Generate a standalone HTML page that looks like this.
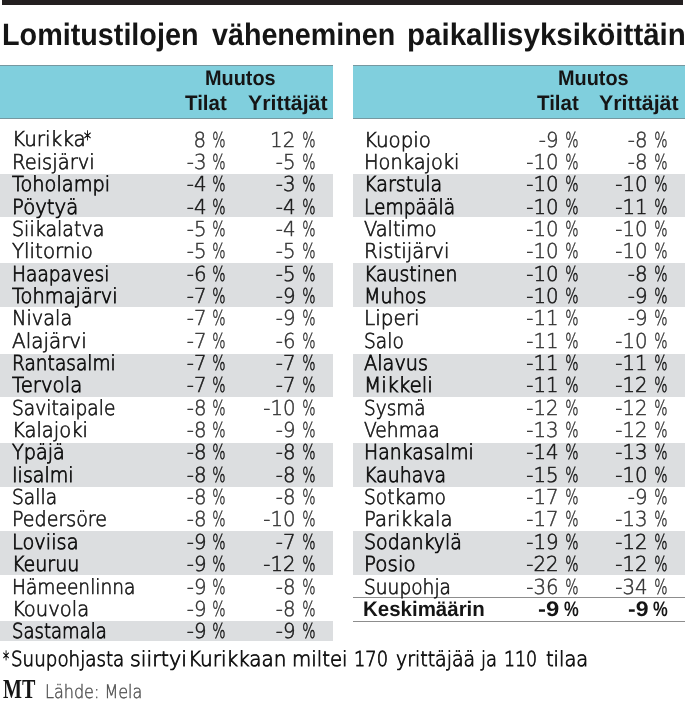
<!DOCTYPE html>
<html lang="fi"><head><meta charset="utf-8"><title>Lomitustilojen väheneminen paikallisyksiköittäin</title>
<style>
html,body{margin:0;padding:0;background:#fff;}
body{text-rendering:geometricPrecision;will-change:transform;width:686px;height:702px;position:relative;overflow:hidden;font-family:"Liberation Sans",sans-serif;color:#1a1a1a;}
.abs{position:absolute;white-space:nowrap;}
.bar{position:absolute;left:2px;top:0;width:681.2px;height:4.5px;background:#231f20;}
.title{position:absolute;left:0;top:17.2px;width:686px;height:36px;margin:0;font-weight:bold;font-size:31px;line-height:36px;color:#151515;}
.fn{position:absolute;left:0;width:686px;height:26px;margin:0;}
.fn span{position:absolute;top:0;white-space:nowrap;transform-origin:0 0;}
.title span{position:absolute;top:0;white-space:nowrap;transform-origin:0 0;}
.hd{position:absolute;top:64.6px;height:54.4px;background:#80cfdd;border-top:1px solid #7698a0;border-bottom:1px solid #7698a0;box-sizing:border-box;}
.band{position:absolute;background:#dcdee0;}
.lt{font-family:"DejaVu Sans Light","DejaVu Sans",sans-serif;font-weight:200; font-size:20.6px;line-height:26px;color:#181818;-webkit-text-stroke:0.66px #181818;}
.nl{color:#333;-webkit-text-stroke:0.45px #333;}
.nm{color:#181818;-webkit-text-stroke:0.55px #181818;}
.md{color:#101010;-webkit-text-stroke:0.8px #101010;}
.n{position:absolute;white-space:nowrap;transform-origin:0 0;}
.r{position:absolute;white-space:nowrap;transform-origin:100% 0;text-align:right;}
.h{position:absolute;white-space:nowrap;font-weight:bold;font-size:21px;line-height:26px;color:#151515;transform-origin:0 0;}
.b{font-family:"Liberation Sans",sans-serif;font-weight:bold;font-size:19.5px;-webkit-text-stroke:0;color:#151515;}
.ln{position:absolute;height:1px;background:#8d8d8d;}
</style></head>
<body>
<div class="bar"></div>
<h1 class="title" id="title"><span style="left:2.28px;transform:scaleX(0.9275)">Lomitustilojen</span> <span style="left:211.93px;transform:scaleX(0.9246)">väheneminen</span> <span style="left:407.15px;transform:scaleX(0.9520)">paikallisyksiköittäin</span></h1>
<div class="hd" style="left:0px;width:333.2px"></div>
<div class="hd" style="left:352.5px;width:332.9px"></div>
<div class="band" style="left:0;width:333.2px;top:173.5px;height:43.1px"></div>
<div class="band" style="left:352.5px;width:332.9px;top:173.5px;height:43.1px"></div>
<div class="band" style="left:0;width:333.2px;top:263.1px;height:43.5px"></div>
<div class="band" style="left:352.5px;width:332.9px;top:263.1px;height:43.5px"></div>
<div class="band" style="left:0;width:333.2px;top:353.8px;height:43.3px"></div>
<div class="band" style="left:352.5px;width:332.9px;top:353.8px;height:43.3px"></div>
<div class="band" style="left:0;width:333.2px;top:443.3px;height:43.3px"></div>
<div class="band" style="left:352.5px;width:332.9px;top:443.3px;height:43.3px"></div>
<div class="band" style="left:0;width:333.2px;top:531.2px;height:43.4px"></div>
<div class="band" style="left:352.5px;width:332.9px;top:531.2px;height:43.4px"></div>
<div class="band" style="left:0;width:333.2px;top:620.8px;height:19.8px"></div>
<div class="ln" style="left:352.5px;width:332.9px;top:597px"></div>
<div class="ln" style="left:352.5px;width:332.9px;top:621px"></div>
<div class="n lt" style="left:12.10px;top:126px;transform:scaleX(0.9724)">Kurikka</div>
<div class="n lt md" style="left:84.3px;top:126px;transform:scaleX(0.68)">*</div>
<div class="r lt nl" style="right:479.70px;top:126px;transform:translateY(0.52px) scaleX(0.96)">8</div>
<div class="r lt nl" style="right:460.10px;top:126px;transform:translateY(0.52px) scaleX(0.68)">%</div>
<div class="r lt nl" style="right:390.50px;top:126px;transform:translateY(0.52px) scaleX(0.96)">12</div>
<div class="r lt nl" style="right:370.90px;top:126px;transform:translateY(0.52px) scaleX(0.68)">%</div>
<div class="n lt" style="left:12.10px;top:148px;transform:translateY(0.87px) scaleX(0.9475)">Reisjärvi</div>
<div class="r lt nl" style="right:479.70px;top:148px;transform:translateY(0.87px) scaleX(0.96)">-3</div>
<div class="r lt nl" style="right:460.10px;top:148px;transform:translateY(0.87px) scaleX(0.68)">%</div>
<div class="r lt nl" style="right:390.50px;top:148px;transform:translateY(0.87px) scaleX(0.96)">-5</div>
<div class="r lt nl" style="right:370.90px;top:148px;transform:translateY(0.87px) scaleX(0.68)">%</div>
<div class="n lt md" style="left:12.10px;top:171px;transform:translateY(0.22px) scaleX(0.9387)">Toholampi</div>
<div class="r lt nm" style="right:479.70px;top:171px;transform:translateY(0.22px) scaleX(0.96)">-4</div>
<div class="r lt nm" style="right:460.10px;top:171px;transform:translateY(0.22px) scaleX(0.68)">%</div>
<div class="r lt nm" style="right:390.50px;top:171px;transform:translateY(0.22px) scaleX(0.96)">-3</div>
<div class="r lt nm" style="right:370.90px;top:171px;transform:translateY(0.22px) scaleX(0.68)">%</div>
<div class="n lt md" style="left:12.10px;top:193px;transform:translateY(0.57px) scaleX(0.9548)">Pöytyä</div>
<div class="r lt nm" style="right:479.70px;top:193px;transform:translateY(0.57px) scaleX(0.96)">-4</div>
<div class="r lt nm" style="right:460.10px;top:193px;transform:translateY(0.57px) scaleX(0.68)">%</div>
<div class="r lt nm" style="right:390.50px;top:193px;transform:translateY(0.57px) scaleX(0.96)">-4</div>
<div class="r lt nm" style="right:370.90px;top:193px;transform:translateY(0.57px) scaleX(0.68)">%</div>
<div class="n lt" style="left:12.10px;top:215px;transform:translateY(0.92px) scaleX(0.9253)">Siikalatva</div>
<div class="r lt nl" style="right:479.70px;top:215px;transform:translateY(0.92px) scaleX(0.96)">-5</div>
<div class="r lt nl" style="right:460.10px;top:215px;transform:translateY(0.92px) scaleX(0.68)">%</div>
<div class="r lt nl" style="right:390.50px;top:215px;transform:translateY(0.92px) scaleX(0.96)">-4</div>
<div class="r lt nl" style="right:370.90px;top:215px;transform:translateY(0.92px) scaleX(0.68)">%</div>
<div class="n lt" style="left:12.10px;top:238px;transform:translateY(0.27px) scaleX(0.9620)">Ylitornio</div>
<div class="r lt nl" style="right:479.70px;top:238px;transform:translateY(0.27px) scaleX(0.96)">-5</div>
<div class="r lt nl" style="right:460.10px;top:238px;transform:translateY(0.27px) scaleX(0.68)">%</div>
<div class="r lt nl" style="right:390.50px;top:238px;transform:translateY(0.27px) scaleX(0.96)">-5</div>
<div class="r lt nl" style="right:370.90px;top:238px;transform:translateY(0.27px) scaleX(0.68)">%</div>
<div class="n lt md" style="left:12.10px;top:260px;transform:translateY(0.62px) scaleX(0.9033)">Haapavesi</div>
<div class="r lt nm" style="right:479.70px;top:260px;transform:translateY(0.62px) scaleX(0.96)">-6</div>
<div class="r lt nm" style="right:460.10px;top:260px;transform:translateY(0.62px) scaleX(0.68)">%</div>
<div class="r lt nm" style="right:390.50px;top:260px;transform:translateY(0.62px) scaleX(0.96)">-5</div>
<div class="r lt nm" style="right:370.90px;top:260px;transform:translateY(0.62px) scaleX(0.68)">%</div>
<div class="n lt md" style="left:12.10px;top:282px;transform:translateY(0.97px) scaleX(0.9427)">Tohmajärvi</div>
<div class="r lt nm" style="right:479.70px;top:282px;transform:translateY(0.97px) scaleX(0.96)">-7</div>
<div class="r lt nm" style="right:460.10px;top:282px;transform:translateY(0.97px) scaleX(0.68)">%</div>
<div class="r lt nm" style="right:390.50px;top:282px;transform:translateY(0.97px) scaleX(0.96)">-9</div>
<div class="r lt nm" style="right:370.90px;top:282px;transform:translateY(0.97px) scaleX(0.68)">%</div>
<div class="n lt" style="left:12.10px;top:305px;transform:translateY(0.32px) scaleX(0.9367)">Nivala</div>
<div class="r lt nl" style="right:479.70px;top:305px;transform:translateY(0.32px) scaleX(0.96)">-7</div>
<div class="r lt nl" style="right:460.10px;top:305px;transform:translateY(0.32px) scaleX(0.68)">%</div>
<div class="r lt nl" style="right:390.50px;top:305px;transform:translateY(0.32px) scaleX(0.96)">-9</div>
<div class="r lt nl" style="right:370.90px;top:305px;transform:translateY(0.32px) scaleX(0.68)">%</div>
<div class="n lt" style="left:12.10px;top:327px;transform:translateY(0.67px) scaleX(0.9679)">Alajärvi</div>
<div class="r lt nl" style="right:479.70px;top:327px;transform:translateY(0.67px) scaleX(0.96)">-7</div>
<div class="r lt nl" style="right:460.10px;top:327px;transform:translateY(0.67px) scaleX(0.68)">%</div>
<div class="r lt nl" style="right:390.50px;top:327px;transform:translateY(0.67px) scaleX(0.96)">-6</div>
<div class="r lt nl" style="right:370.90px;top:327px;transform:translateY(0.67px) scaleX(0.68)">%</div>
<div class="n lt md" style="left:12.10px;top:350px;transform:translateY(0.02px) scaleX(0.9008)">Rantasalmi</div>
<div class="r lt nm" style="right:479.70px;top:350px;transform:translateY(0.02px) scaleX(0.96)">-7</div>
<div class="r lt nm" style="right:460.10px;top:350px;transform:translateY(0.02px) scaleX(0.68)">%</div>
<div class="r lt nm" style="right:390.50px;top:350px;transform:translateY(0.02px) scaleX(0.96)">-7</div>
<div class="r lt nm" style="right:370.90px;top:350px;transform:translateY(0.02px) scaleX(0.68)">%</div>
<div class="n lt md" style="left:12.10px;top:372px;transform:translateY(0.37px) scaleX(0.9575)">Tervola</div>
<div class="r lt nm" style="right:479.70px;top:372px;transform:translateY(0.37px) scaleX(0.96)">-7</div>
<div class="r lt nm" style="right:460.10px;top:372px;transform:translateY(0.37px) scaleX(0.68)">%</div>
<div class="r lt nm" style="right:390.50px;top:372px;transform:translateY(0.37px) scaleX(0.96)">-7</div>
<div class="r lt nm" style="right:370.90px;top:372px;transform:translateY(0.37px) scaleX(0.68)">%</div>
<div class="n lt" style="left:12.10px;top:394px;transform:translateY(0.72px) scaleX(0.9068)">Savitaipale</div>
<div class="r lt nl" style="right:479.70px;top:394px;transform:translateY(0.72px) scaleX(0.96)">-8</div>
<div class="r lt nl" style="right:460.10px;top:394px;transform:translateY(0.72px) scaleX(0.68)">%</div>
<div class="r lt nl" style="right:390.50px;top:394px;transform:translateY(0.72px) scaleX(0.96)">-10</div>
<div class="r lt nl" style="right:370.90px;top:394px;transform:translateY(0.72px) scaleX(0.68)">%</div>
<div class="n lt" style="left:12.10px;top:417px;transform:translateY(0.07px) scaleX(0.9476)">Kalajoki</div>
<div class="r lt nl" style="right:479.70px;top:417px;transform:translateY(0.07px) scaleX(0.96)">-8</div>
<div class="r lt nl" style="right:460.10px;top:417px;transform:translateY(0.07px) scaleX(0.68)">%</div>
<div class="r lt nl" style="right:390.50px;top:417px;transform:translateY(0.07px) scaleX(0.96)">-9</div>
<div class="r lt nl" style="right:370.90px;top:417px;transform:translateY(0.07px) scaleX(0.68)">%</div>
<div class="n lt md" style="left:12.10px;top:439px;transform:translateY(0.42px) scaleX(0.9324)">Ypäjä</div>
<div class="r lt nm" style="right:479.70px;top:439px;transform:translateY(0.42px) scaleX(0.96)">-8</div>
<div class="r lt nm" style="right:460.10px;top:439px;transform:translateY(0.42px) scaleX(0.68)">%</div>
<div class="r lt nm" style="right:390.50px;top:439px;transform:translateY(0.42px) scaleX(0.96)">-8</div>
<div class="r lt nm" style="right:370.90px;top:439px;transform:translateY(0.42px) scaleX(0.68)">%</div>
<div class="n lt md" style="left:12.10px;top:461px;transform:translateY(0.77px) scaleX(0.9234)">Iisalmi</div>
<div class="r lt nm" style="right:479.70px;top:461px;transform:translateY(0.77px) scaleX(0.96)">-8</div>
<div class="r lt nm" style="right:460.10px;top:461px;transform:translateY(0.77px) scaleX(0.68)">%</div>
<div class="r lt nm" style="right:390.50px;top:461px;transform:translateY(0.77px) scaleX(0.96)">-8</div>
<div class="r lt nm" style="right:370.90px;top:461px;transform:translateY(0.77px) scaleX(0.68)">%</div>
<div class="n lt" style="left:12.10px;top:484px;transform:translateY(0.12px) scaleX(0.9066)">Salla</div>
<div class="r lt nl" style="right:479.70px;top:484px;transform:translateY(0.12px) scaleX(0.96)">-8</div>
<div class="r lt nl" style="right:460.10px;top:484px;transform:translateY(0.12px) scaleX(0.68)">%</div>
<div class="r lt nl" style="right:390.50px;top:484px;transform:translateY(0.12px) scaleX(0.96)">-8</div>
<div class="r lt nl" style="right:370.90px;top:484px;transform:translateY(0.12px) scaleX(0.68)">%</div>
<div class="n lt" style="left:12.10px;top:506px;transform:translateY(0.47px) scaleX(0.9265)">Pedersöre</div>
<div class="r lt nl" style="right:479.70px;top:506px;transform:translateY(0.47px) scaleX(0.96)">-8</div>
<div class="r lt nl" style="right:460.10px;top:506px;transform:translateY(0.47px) scaleX(0.68)">%</div>
<div class="r lt nl" style="right:390.50px;top:506px;transform:translateY(0.47px) scaleX(0.96)">-10</div>
<div class="r lt nl" style="right:370.90px;top:506px;transform:translateY(0.47px) scaleX(0.68)">%</div>
<div class="n lt md" style="left:12.10px;top:528px;transform:translateY(0.82px) scaleX(0.9409)">Loviisa</div>
<div class="r lt nm" style="right:479.70px;top:528px;transform:translateY(0.82px) scaleX(0.96)">-9</div>
<div class="r lt nm" style="right:460.10px;top:528px;transform:translateY(0.82px) scaleX(0.68)">%</div>
<div class="r lt nm" style="right:390.50px;top:528px;transform:translateY(0.82px) scaleX(0.96)">-7</div>
<div class="r lt nm" style="right:370.90px;top:528px;transform:translateY(0.82px) scaleX(0.68)">%</div>
<div class="n lt md" style="left:12.10px;top:551px;transform:translateY(0.17px) scaleX(0.9246)">Keuruu</div>
<div class="r lt nm" style="right:479.70px;top:551px;transform:translateY(0.17px) scaleX(0.96)">-9</div>
<div class="r lt nm" style="right:460.10px;top:551px;transform:translateY(0.17px) scaleX(0.68)">%</div>
<div class="r lt nm" style="right:390.50px;top:551px;transform:translateY(0.17px) scaleX(0.96)">-12</div>
<div class="r lt nm" style="right:370.90px;top:551px;transform:translateY(0.17px) scaleX(0.68)">%</div>
<div class="n lt" style="left:12.10px;top:573px;transform:translateY(0.52px) scaleX(0.9028)">Hämeenlinna</div>
<div class="r lt nl" style="right:479.70px;top:573px;transform:translateY(0.52px) scaleX(0.96)">-9</div>
<div class="r lt nl" style="right:460.10px;top:573px;transform:translateY(0.52px) scaleX(0.68)">%</div>
<div class="r lt nl" style="right:390.50px;top:573px;transform:translateY(0.52px) scaleX(0.96)">-8</div>
<div class="r lt nl" style="right:370.90px;top:573px;transform:translateY(0.52px) scaleX(0.68)">%</div>
<div class="n lt" style="left:12.10px;top:595px;transform:translateY(0.87px) scaleX(0.9511)">Kouvola</div>
<div class="r lt nl" style="right:479.70px;top:595px;transform:translateY(0.87px) scaleX(0.96)">-9</div>
<div class="r lt nl" style="right:460.10px;top:595px;transform:translateY(0.87px) scaleX(0.68)">%</div>
<div class="r lt nl" style="right:390.50px;top:595px;transform:translateY(0.87px) scaleX(0.96)">-8</div>
<div class="r lt nl" style="right:370.90px;top:595px;transform:translateY(0.87px) scaleX(0.68)">%</div>
<div class="n lt md" style="left:12.10px;top:618px;transform:translateY(0.22px) scaleX(0.8775)">Sastamala</div>
<div class="r lt nm" style="right:479.70px;top:618px;transform:translateY(0.22px) scaleX(0.96)">-9</div>
<div class="r lt nm" style="right:460.10px;top:618px;transform:translateY(0.22px) scaleX(0.68)">%</div>
<div class="r lt nm" style="right:390.50px;top:618px;transform:translateY(0.22px) scaleX(0.96)">-9</div>
<div class="r lt nm" style="right:370.90px;top:618px;transform:translateY(0.22px) scaleX(0.68)">%</div>
<div class="n lt" style="left:363.80px;top:126px;transform:translateY(0.52px) scaleX(0.9625)">Kuopio</div>
<div class="r lt nl" style="right:127.20px;top:126px;transform:translateY(0.52px) scaleX(0.96)">-9</div>
<div class="r lt nl" style="right:107.60px;top:126px;transform:translateY(0.52px) scaleX(0.68)">%</div>
<div class="r lt nl" style="right:38.00px;top:126px;transform:translateY(0.52px) scaleX(0.96)">-8</div>
<div class="r lt nl" style="right:18.40px;top:126px;transform:translateY(0.52px) scaleX(0.68)">%</div>
<div class="n lt" style="left:363.80px;top:148px;transform:translateY(0.87px) scaleX(0.9425)">Honkajoki</div>
<div class="r lt nl" style="right:127.20px;top:148px;transform:translateY(0.87px) scaleX(0.96)">-10</div>
<div class="r lt nl" style="right:107.60px;top:148px;transform:translateY(0.87px) scaleX(0.68)">%</div>
<div class="r lt nl" style="right:38.00px;top:148px;transform:translateY(0.87px) scaleX(0.96)">-8</div>
<div class="r lt nl" style="right:18.40px;top:148px;transform:translateY(0.87px) scaleX(0.68)">%</div>
<div class="n lt md" style="left:363.80px;top:171px;transform:translateY(0.22px) scaleX(0.9273)">Karstula</div>
<div class="r lt nm" style="right:127.20px;top:171px;transform:translateY(0.22px) scaleX(0.96)">-10</div>
<div class="r lt nm" style="right:107.60px;top:171px;transform:translateY(0.22px) scaleX(0.68)">%</div>
<div class="r lt nm" style="right:38.00px;top:171px;transform:translateY(0.22px) scaleX(0.96)">-10</div>
<div class="r lt nm" style="right:18.40px;top:171px;transform:translateY(0.22px) scaleX(0.68)">%</div>
<div class="n lt md" style="left:363.80px;top:193px;transform:translateY(0.57px) scaleX(0.9066)">Lempäälä</div>
<div class="r lt nm" style="right:127.20px;top:193px;transform:translateY(0.57px) scaleX(0.96)">-10</div>
<div class="r lt nm" style="right:107.60px;top:193px;transform:translateY(0.57px) scaleX(0.68)">%</div>
<div class="r lt nm" style="right:38.00px;top:193px;transform:translateY(0.57px) scaleX(0.96)">-11</div>
<div class="r lt nm" style="right:18.40px;top:193px;transform:translateY(0.57px) scaleX(0.68)">%</div>
<div class="n lt" style="left:363.80px;top:215px;transform:translateY(0.92px) scaleX(0.9408)">Valtimo</div>
<div class="r lt nl" style="right:127.20px;top:215px;transform:translateY(0.92px) scaleX(0.96)">-10</div>
<div class="r lt nl" style="right:107.60px;top:215px;transform:translateY(0.92px) scaleX(0.68)">%</div>
<div class="r lt nl" style="right:38.00px;top:215px;transform:translateY(0.92px) scaleX(0.96)">-10</div>
<div class="r lt nl" style="right:18.40px;top:215px;transform:translateY(0.92px) scaleX(0.68)">%</div>
<div class="n lt" style="left:363.80px;top:238px;transform:translateY(0.27px) scaleX(0.9573)">Ristijärvi</div>
<div class="r lt nl" style="right:127.20px;top:238px;transform:translateY(0.27px) scaleX(0.96)">-10</div>
<div class="r lt nl" style="right:107.60px;top:238px;transform:translateY(0.27px) scaleX(0.68)">%</div>
<div class="r lt nl" style="right:38.00px;top:238px;transform:translateY(0.27px) scaleX(0.96)">-10</div>
<div class="r lt nl" style="right:18.40px;top:238px;transform:translateY(0.27px) scaleX(0.68)">%</div>
<div class="n lt md" style="left:363.80px;top:260px;transform:translateY(0.62px) scaleX(0.9139)">Kaustinen</div>
<div class="r lt nm" style="right:127.20px;top:260px;transform:translateY(0.62px) scaleX(0.96)">-10</div>
<div class="r lt nm" style="right:107.60px;top:260px;transform:translateY(0.62px) scaleX(0.68)">%</div>
<div class="r lt nm" style="right:38.00px;top:260px;transform:translateY(0.62px) scaleX(0.96)">-8</div>
<div class="r lt nm" style="right:18.40px;top:260px;transform:translateY(0.62px) scaleX(0.68)">%</div>
<div class="n lt md" style="left:363.80px;top:282px;transform:translateY(0.97px) scaleX(0.9316)">Muhos</div>
<div class="r lt nm" style="right:127.20px;top:282px;transform:translateY(0.97px) scaleX(0.96)">-10</div>
<div class="r lt nm" style="right:107.60px;top:282px;transform:translateY(0.97px) scaleX(0.68)">%</div>
<div class="r lt nm" style="right:38.00px;top:282px;transform:translateY(0.97px) scaleX(0.96)">-9</div>
<div class="r lt nm" style="right:18.40px;top:282px;transform:translateY(0.97px) scaleX(0.68)">%</div>
<div class="n lt" style="left:363.80px;top:305px;transform:translateY(0.32px) scaleX(0.9709)">Liperi</div>
<div class="r lt nl" style="right:127.20px;top:305px;transform:translateY(0.32px) scaleX(0.96)">-11</div>
<div class="r lt nl" style="right:107.60px;top:305px;transform:translateY(0.32px) scaleX(0.68)">%</div>
<div class="r lt nl" style="right:38.00px;top:305px;transform:translateY(0.32px) scaleX(0.96)">-9</div>
<div class="r lt nl" style="right:18.40px;top:305px;transform:translateY(0.32px) scaleX(0.68)">%</div>
<div class="n lt" style="left:363.80px;top:327px;transform:translateY(0.67px) scaleX(0.9045)">Salo</div>
<div class="r lt nl" style="right:127.20px;top:327px;transform:translateY(0.67px) scaleX(0.96)">-11</div>
<div class="r lt nl" style="right:107.60px;top:327px;transform:translateY(0.67px) scaleX(0.68)">%</div>
<div class="r lt nl" style="right:38.00px;top:327px;transform:translateY(0.67px) scaleX(0.96)">-10</div>
<div class="r lt nl" style="right:18.40px;top:327px;transform:translateY(0.67px) scaleX(0.68)">%</div>
<div class="n lt md" style="left:363.80px;top:350px;transform:translateY(0.02px) scaleX(0.9379)">Alavus</div>
<div class="r lt nm" style="right:127.20px;top:350px;transform:translateY(0.02px) scaleX(0.96)">-11</div>
<div class="r lt nm" style="right:107.60px;top:350px;transform:translateY(0.02px) scaleX(0.68)">%</div>
<div class="r lt nm" style="right:38.00px;top:350px;transform:translateY(0.02px) scaleX(0.96)">-11</div>
<div class="r lt nm" style="right:18.40px;top:350px;transform:translateY(0.02px) scaleX(0.68)">%</div>
<div class="n lt md" style="left:363.80px;top:372px;transform:translateY(0.37px) scaleX(0.9750)">Mikkeli</div>
<div class="r lt nm" style="right:127.20px;top:372px;transform:translateY(0.37px) scaleX(0.96)">-11</div>
<div class="r lt nm" style="right:107.60px;top:372px;transform:translateY(0.37px) scaleX(0.68)">%</div>
<div class="r lt nm" style="right:38.00px;top:372px;transform:translateY(0.37px) scaleX(0.96)">-12</div>
<div class="r lt nm" style="right:18.40px;top:372px;transform:translateY(0.37px) scaleX(0.68)">%</div>
<div class="n lt" style="left:363.80px;top:394px;transform:translateY(0.72px) scaleX(0.8965)">Sysmä</div>
<div class="r lt nl" style="right:127.20px;top:394px;transform:translateY(0.72px) scaleX(0.96)">-12</div>
<div class="r lt nl" style="right:107.60px;top:394px;transform:translateY(0.72px) scaleX(0.68)">%</div>
<div class="r lt nl" style="right:38.00px;top:394px;transform:translateY(0.72px) scaleX(0.96)">-12</div>
<div class="r lt nl" style="right:18.40px;top:394px;transform:translateY(0.72px) scaleX(0.68)">%</div>
<div class="n lt" style="left:363.80px;top:417px;transform:translateY(0.07px) scaleX(0.9068)">Vehmaa</div>
<div class="r lt nl" style="right:127.20px;top:417px;transform:translateY(0.07px) scaleX(0.96)">-13</div>
<div class="r lt nl" style="right:107.60px;top:417px;transform:translateY(0.07px) scaleX(0.68)">%</div>
<div class="r lt nl" style="right:38.00px;top:417px;transform:translateY(0.07px) scaleX(0.96)">-12</div>
<div class="r lt nl" style="right:18.40px;top:417px;transform:translateY(0.07px) scaleX(0.68)">%</div>
<div class="n lt md" style="left:363.80px;top:439px;transform:translateY(0.42px) scaleX(0.9134)">Hankasalmi</div>
<div class="r lt nm" style="right:127.20px;top:439px;transform:translateY(0.42px) scaleX(0.96)">-14</div>
<div class="r lt nm" style="right:107.60px;top:439px;transform:translateY(0.42px) scaleX(0.68)">%</div>
<div class="r lt nm" style="right:38.00px;top:439px;transform:translateY(0.42px) scaleX(0.96)">-13</div>
<div class="r lt nm" style="right:18.40px;top:439px;transform:translateY(0.42px) scaleX(0.68)">%</div>
<div class="n lt md" style="left:363.80px;top:461px;transform:translateY(0.77px) scaleX(0.9194)">Kauhava</div>
<div class="r lt nm" style="right:127.20px;top:461px;transform:translateY(0.77px) scaleX(0.96)">-15</div>
<div class="r lt nm" style="right:107.60px;top:461px;transform:translateY(0.77px) scaleX(0.68)">%</div>
<div class="r lt nm" style="right:38.00px;top:461px;transform:translateY(0.77px) scaleX(0.96)">-10</div>
<div class="r lt nm" style="right:18.40px;top:461px;transform:translateY(0.77px) scaleX(0.68)">%</div>
<div class="n lt" style="left:363.80px;top:484px;transform:translateY(0.12px) scaleX(0.9042)">Sotkamo</div>
<div class="r lt nl" style="right:127.20px;top:484px;transform:translateY(0.12px) scaleX(0.96)">-17</div>
<div class="r lt nl" style="right:107.60px;top:484px;transform:translateY(0.12px) scaleX(0.68)">%</div>
<div class="r lt nl" style="right:38.00px;top:484px;transform:translateY(0.12px) scaleX(0.96)">-9</div>
<div class="r lt nl" style="right:18.40px;top:484px;transform:translateY(0.12px) scaleX(0.68)">%</div>
<div class="n lt" style="left:363.80px;top:506px;transform:translateY(0.47px) scaleX(0.9542)">Parikkala</div>
<div class="r lt nl" style="right:127.20px;top:506px;transform:translateY(0.47px) scaleX(0.96)">-17</div>
<div class="r lt nl" style="right:107.60px;top:506px;transform:translateY(0.47px) scaleX(0.68)">%</div>
<div class="r lt nl" style="right:38.00px;top:506px;transform:translateY(0.47px) scaleX(0.96)">-13</div>
<div class="r lt nl" style="right:18.40px;top:506px;transform:translateY(0.47px) scaleX(0.68)">%</div>
<div class="n lt md" style="left:363.80px;top:528px;transform:translateY(0.82px) scaleX(0.9232)">Sodankylä</div>
<div class="r lt nm" style="right:127.20px;top:528px;transform:translateY(0.82px) scaleX(0.96)">-19</div>
<div class="r lt nm" style="right:107.60px;top:528px;transform:translateY(0.82px) scaleX(0.68)">%</div>
<div class="r lt nm" style="right:38.00px;top:528px;transform:translateY(0.82px) scaleX(0.96)">-12</div>
<div class="r lt nm" style="right:18.40px;top:528px;transform:translateY(0.82px) scaleX(0.68)">%</div>
<div class="n lt md" style="left:363.80px;top:551px;transform:translateY(0.17px) scaleX(0.9682)">Posio</div>
<div class="r lt nm" style="right:127.20px;top:551px;transform:translateY(0.17px) scaleX(0.96)">-22</div>
<div class="r lt nm" style="right:107.60px;top:551px;transform:translateY(0.17px) scaleX(0.68)">%</div>
<div class="r lt nm" style="right:38.00px;top:551px;transform:translateY(0.17px) scaleX(0.96)">-12</div>
<div class="r lt nm" style="right:18.40px;top:551px;transform:translateY(0.17px) scaleX(0.68)">%</div>
<div class="n lt" style="left:363.80px;top:573px;transform:translateY(0.52px) scaleX(0.9037)">Suupohja</div>
<div class="r lt nl" style="right:127.20px;top:573px;transform:translateY(0.52px) scaleX(0.96)">-36</div>
<div class="r lt nl" style="right:107.60px;top:573px;transform:translateY(0.52px) scaleX(0.68)">%</div>
<div class="r lt nl" style="right:38.00px;top:573px;transform:translateY(0.52px) scaleX(0.96)">-34</div>
<div class="r lt nl" style="right:18.40px;top:573px;transform:translateY(0.52px) scaleX(0.68)">%</div>
<div class="h" style="left:205.06px;top:65.52px;transform:scaleX(0.9465)">Muutos</div>
<div class="h" style="left:184.90px;top:91.12px;transform:scaleX(0.9743)">Tilat</div>
<div class="h" style="left:247.54px;top:91.12px;transform:scaleX(1.0177)">Yrittäjät</div>
<div class="h" style="left:558.06px;top:65.52px;transform:scaleX(0.9465)">Muutos</div>
<div class="h" style="left:536.94px;top:91.12px;transform:scaleX(0.9743)">Tilat</div>
<div class="h" style="left:599.49px;top:91.12px;transform:scaleX(1.0177)">Yrittäjät</div>
<div class="h" style="left:363.33px;top:597.12px;transform:scaleX(0.9751)">Keskimäärin</div>
<div class="h" style="left:538.19px;top:597.12px;transform:scaleX(1.1341)">-9</div>
<div class="h" style="left:563.78px;top:597.12px;transform:scaleX(0.7896)">%</div>
<div class="h" style="left:628.26px;top:597.12px;transform:scaleX(1.0955)">-9</div>
<div class="h" style="left:653.35px;top:597.12px;transform:scaleX(0.7896)">%</div>
<p class="fn lt md" id="fn" style="top:645.67px"><span style="left:3.24px;transform:scaleX(0.5977)">*</span> <span style="left:10.64px;transform:scaleX(0.8876)">Suupohjasta</span> <span style="left:129.64px;transform:scaleX(1.0072)">siirtyi</span> <span style="left:188.48px;transform:scaleX(0.9686)">Kurikkaan</span> <span style="left:292.16px;transform:scaleX(0.9579)">miltei</span> <span style="left:353.79px;transform:scaleX(0.8640)">170</span> <span style="left:396.19px;transform:scaleX(0.9181)">yrittäjää</span> <span style="left:480.59px;transform:scaleX(0.8746)">ja</span> <span style="left:504.30px;transform:scaleX(0.8438)">110</span> <span style="left:546.06px;transform:scaleX(0.9439)">tilaa</span></p>
<div class="abs" id="mt" style="left:2.8px;top:673.52px;font-family:'Liberation Serif',serif;font-weight:bold;font-size:27.5px;line-height:30px;color:#151515;transform-origin:0 0;transform:scaleX(0.73)">MT</div>
<div class="n" id="src" style="left:45.4px;top:681.20px;font-family:'DejaVu Sans Light','DejaVu Sans',sans-serif;font-weight:200;font-size:18.5px;line-height:24px;color:#4e4e4e;-webkit-text-stroke:0.4px #4e4e4e;transform:scaleX(0.866)">Lähde: Mela</div>
</body></html>
